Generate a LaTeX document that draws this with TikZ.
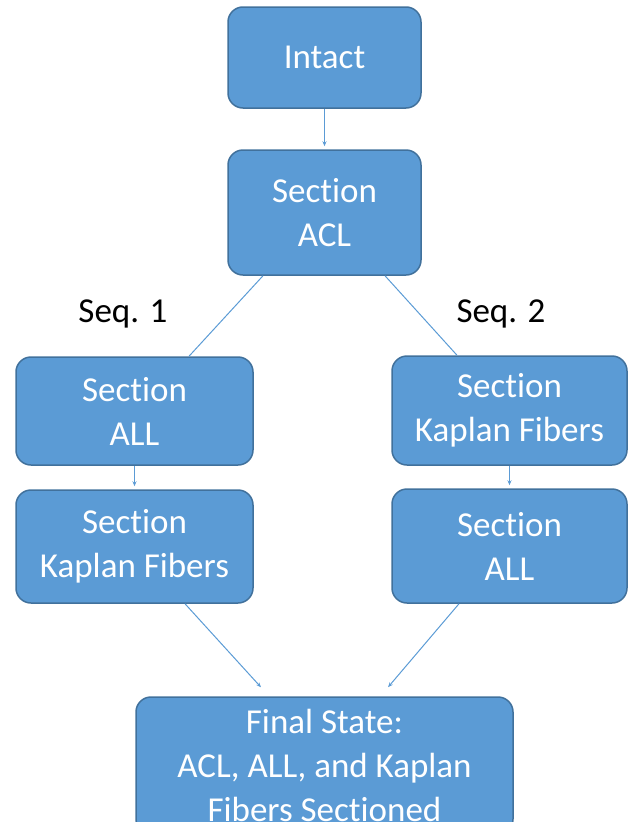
\documentclass[tikz,border=0pt]{standalone}
\usepackage{fontspec}
\setmainfont{Carlito}[Ligatures=NoCommon]
\usetikzlibrary{arrows.meta,calc}
\definecolor{boxfill}{HTML}{5B9BD5}
\definecolor{boxline}{HTML}{41719C}
\definecolor{conn}{HTML}{5B9BD5}
\newcommand{\SecWord}{Sect\kern0pt ion}
\tikzset{
  stagebox/.style={draw=boxline, line width=1.5pt, fill=boxfill, rounded corners=15pt,
    text=white, align=center, inner sep=0pt,
    font=\fontsize{35}{44}\selectfont},
  seqlabel/.style={text=black, inner sep=0pt, font=\fontsize{35}{44}\selectfont},
  link/.style={draw=conn, line width=1pt},
  arrowlink/.style={link, -{Stealth[length=5pt,width=4pt]}}
}
\begin{document}
\begin{tikzpicture}[x=1pt,y=-1pt]
\useasboundingbox (0,0) rectangle (633,822);
\clip (0,0) rectangle (633,822);
\node[stagebox, minimum width=193pt, minimum height=101pt] (intact) at (324.5,57.5) {Intact};
\node[stagebox, minimum width=193pt, minimum height=125pt] (acl) at (324.5,212.5) {\SecWord\\ACL};
\node[stagebox, minimum width=237pt, minimum height=108pt] (lall) at (134.5,411) {\SecWord\\ALL};
\node[stagebox, minimum width=237pt, minimum height=113pt] (lkap) at (134.5,546.5) {\SecWord\\Kaplan Fibers};
\node[stagebox, minimum width=235pt, minimum height=109pt] (rkap) at (509.5,410.5) {\SecWord\\Kaplan Fibers};
\node[stagebox, minimum width=235pt, minimum height=114pt] (rall) at (509.5,546) {\SecWord\\ALL};
\node[stagebox, minimum width=377pt, minimum height=137pt] (final) at (324.5,765.5) {Final State:\\ACL, ALL, and Kaplan\\Fibers Sect\kern0pt ioned};
\node[seqlabel, anchor=base] (seq1) at (123,322) {Seq. 1};
\node[seqlabel, anchor=base] (seq2) at (501,322) {Seq. 2};
\coordinate (aclend) at ([yshift=3pt]acl.north);
\coordinate (lkapend) at ([yshift=3pt]lkap.north);
\coordinate (rallend) at ([yshift=3pt]rall.north);
\coordinate (finl) at ([xshift=-63.5pt,yshift=9pt]final.north);
\coordinate (finr) at ([xshift=63.5pt,yshift=9pt]final.north);
\draw[arrowlink] (intact.south) -- (aclend);
\draw[link] ([xshift=-61.5pt]acl.south) -- ([xshift=54.5pt]lall.north);
\draw[link] ([xshift=60.5pt]acl.south) -- ([xshift=-52.5pt]rkap.north);
\draw[arrowlink] (lall.south) -- (lkapend);
\draw[arrowlink] (rkap.south) -- (rallend);
\draw[arrowlink] ([xshift=50.5pt]lkap.south) -- (finl);
\draw[arrowlink] ([xshift=-50.5pt]rall.south) -- (finr);
\end{tikzpicture}
\end{document}
